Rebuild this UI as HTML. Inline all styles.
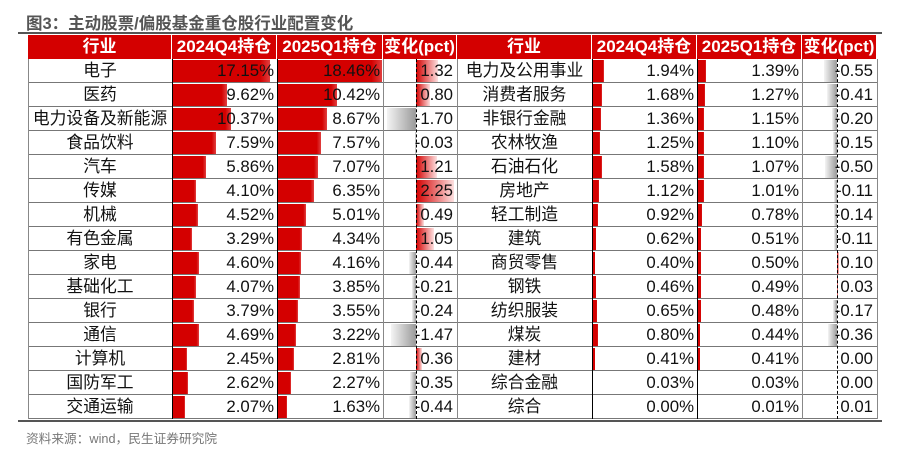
<!DOCTYPE html>
<html><head><meta charset="utf-8">
<style>
body{margin:0;background:#fff;width:900px;height:456px;position:relative;overflow:hidden;font-family:"Liberation Sans","Noto Sans CJK SC",sans-serif;}
.a{position:absolute;box-sizing:border-box;}
#title{left:26px;top:10px;font-size:16.5px;font-weight:bold;color:#555;}
#src{left:26px;top:428px;font-size:12.7px;color:#777;}
.hd{background:#d40000;color:#fff;font-weight:bold;font-size:17px;text-align:center;line-height:24px;height:24px;}
.cell{font-size:16.8px;line-height:24px;height:24px;color:#111;white-space:nowrap;}
</style></head><body>
<div class="a" id="title">图3：主动股票/偏股基金重仓股行业配置变化</div>
<div class="a" style="left:18px;top:32px;width:864px;height:2px;background:#555"></div>
<div class="a" style="left:18px;top:420px;width:864px;height:2px;background:#555"></div>
<div class="a" id="src">资料来源：wind，民生证券研究院</div>
<div id="tbl"></div>
<script>
const leftInd=["电子","医药","电力设备及新能源","食品饮料","汽车","传媒","机械","有色金属","家电","基础化工","银行","通信","计算机","国防军工","交通运输"];
const leftQ4=[17.15,9.62,10.37,7.59,5.86,4.10,4.52,3.29,4.60,4.07,3.79,4.69,2.45,2.62,2.07];
const leftQ1=[18.46,10.42,8.67,7.57,7.07,6.35,5.01,4.34,4.16,3.85,3.55,3.22,2.81,2.27,1.63];
const leftChg=[1.32,0.80,-1.70,-0.03,1.21,2.25,0.49,1.05,-0.44,-0.21,-0.24,-1.47,0.36,-0.35,-0.44];
const rightInd=["电力及公用事业","消费者服务","非银行金融","农林牧渔","石油石化","房地产","轻工制造","建筑","商贸零售","钢铁","纺织服装","煤炭","建材","综合金融","综合"];
const rightQ4=[1.94,1.68,1.36,1.25,1.58,1.12,0.92,0.62,0.40,0.46,0.65,0.80,0.41,0.03,0.00];
const rightQ1=[1.39,1.27,1.15,1.10,1.07,1.01,0.78,0.51,0.50,0.49,0.48,0.44,0.41,0.03,0.01];
const rightChg=[-0.55,-0.41,-0.20,-0.15,-0.50,-0.11,-0.14,-0.11,0.10,0.03,-0.17,-0.36,0.00,0.00,0.01];
const headers=["行业","2024Q4持仓","2025Q1持仓","变化(pct)"];
const T=document.getElementById('tbl');
const top0=35,hh=24,rh=24;
function mk(cls,st,txt){const d=document.createElement('div');d.className='a '+cls;d.style.cssText=st;if(txt!==undefined)d.textContent=txt;T.appendChild(d);return d;}
const pxPerPct=104/18.46;
function side(x0,w,ind,q4,q1,chg,chgScale,axisOff,tag){
  let xs=[x0];w.forEach(v=>xs.push(xs[xs.length-1]+v));
  headers.forEach((h,i)=>{const d=mk('hd',`left:${xs[i]}px;top:${top0}px;width:${w[i]}px;border-right:1px solid #fff;`,h);
    
    });
  ind.forEach((name,r)=>{
    const y=top0+hh+r*rh;
    const c0=mk('cell',`left:${xs[0]}px;top:${y}px;width:${w[0]}px;text-align:center;`,name);
    
    
    [q4,q1].forEach((arr,k)=>{
      const bx=xs[k+1]+1;
      const b=mk('',`left:${bx}px;top:${y+1}px;width:${Math.max(0,arr[r]*pxPerPct)}px;height:${rh-2}px;background:linear-gradient(90deg,#d40000 90%,#e04040);`);
      
      
      const t=mk('cell',`left:${xs[k+1]}px;top:${y}px;width:${w[k+1]-3}px;text-align:right;`,arr[r].toFixed(2)+'%');
      
      
    });
    const ax=xs[3]+axisOff;const v=chg[r];const bw=Math.abs(v)*chgScale;
    let cb;
    if(v>=0){cb=mk('',`left:${ax}px;top:${y+1}px;width:${Math.min(bw,xs[4]-ax-1)}px;height:${rh-2}px;background:linear-gradient(90deg,#d40000,#fde0e0);`);}
    else{const wl=Math.min(bw,ax-xs[3]-1);cb=mk('',`left:${ax-wl}px;top:${y+1}px;width:${wl}px;height:${rh-2}px;background:linear-gradient(90deg,#f4f4f4,#9a9a9a);`);}
    
    
    const ct=mk('cell',`left:${xs[3]}px;top:${y}px;width:${w[3]-4}px;text-align:right;`,v.toFixed(2));
    
    
    mk('',`left:${x0}px;top:${y+rh-1}px;width:${xs[4]-x0}px;height:1px;background:#777;`);
  });
  const yb=top0+hh, hb=ind.length*rh;
  xs.forEach((x,i)=>{const col=(i==1||i==2)?'#000':'#888';mk('',`left:${x}px;top:${yb}px;width:1px;height:${hb}px;background:${col};`);});
  mk('',`left:${xs[3]+axisOff}px;top:${yb}px;width:0;height:${hb}px;border-left:1px dashed #000;`);
}
side(28,[144,105,106,74],leftInd,leftQ4,leftQ1,leftChg,17,33,'left');
side(457,[135,105,105,75],rightInd,rightQ4,rightQ1,rightChg,24,35,'right');
</script>
</body></html>
